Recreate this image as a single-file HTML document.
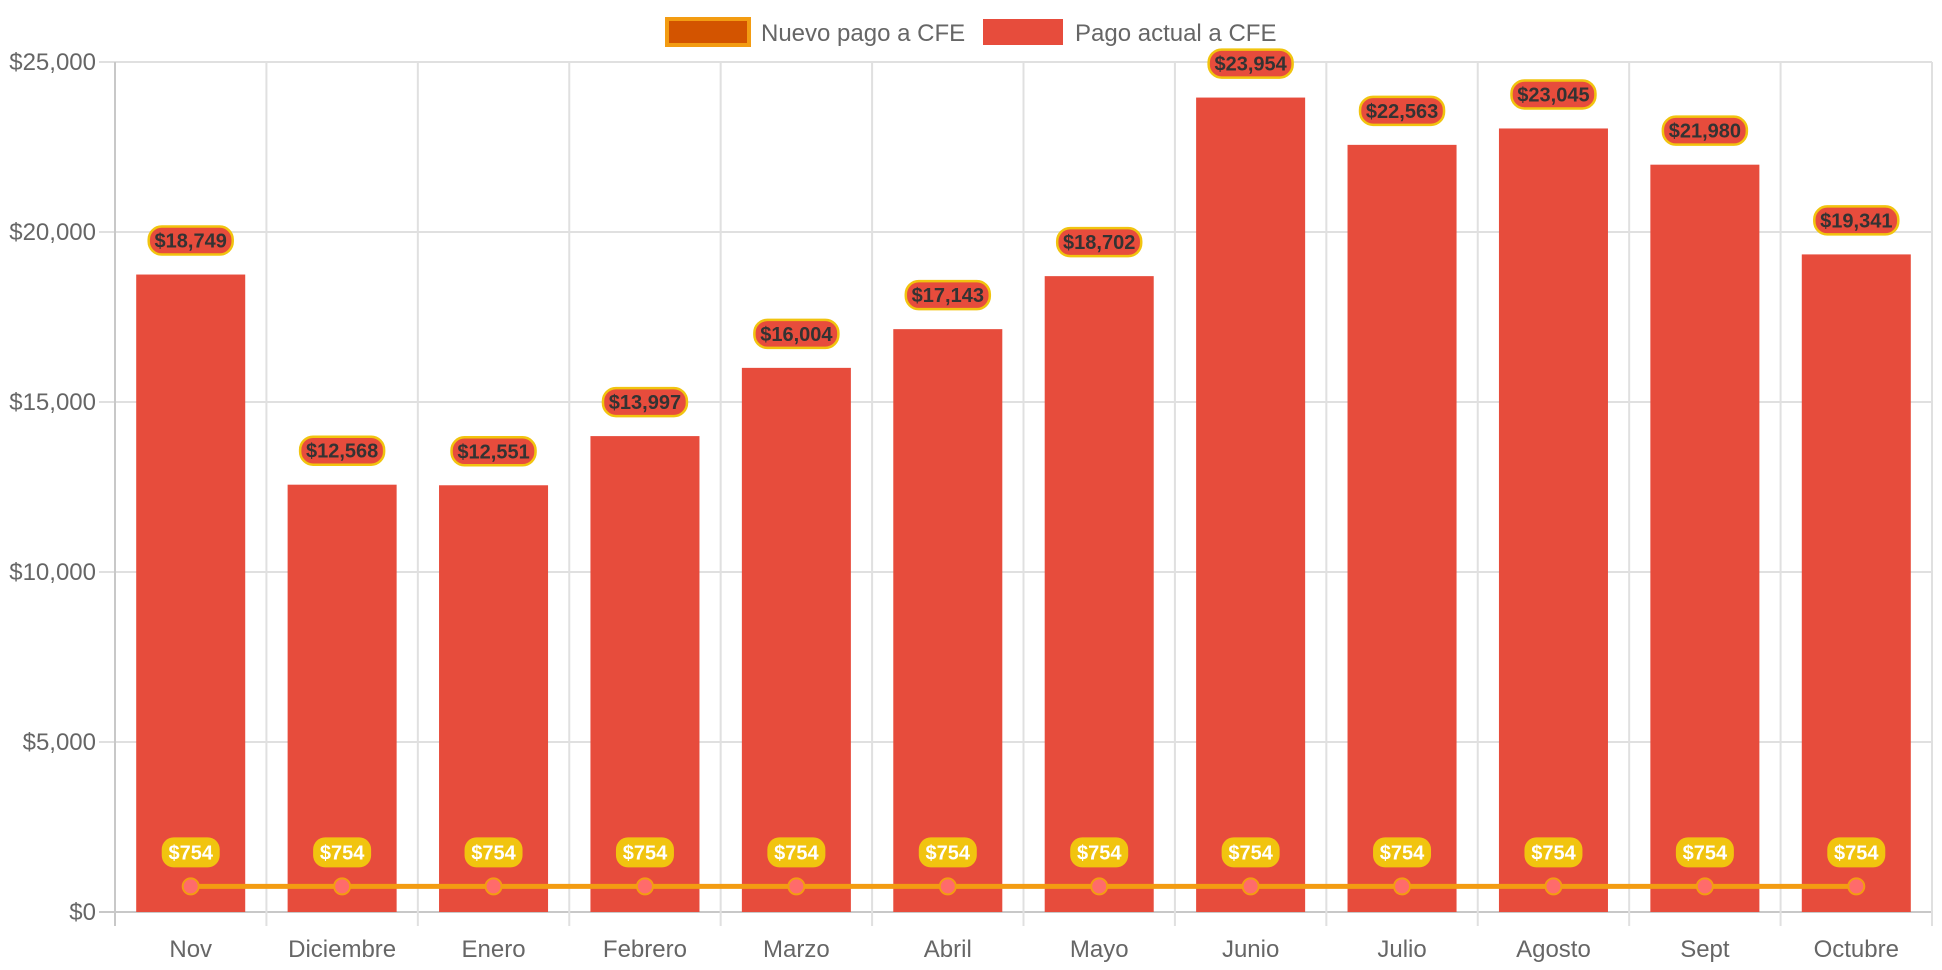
<!DOCTYPE html>
<html><head><meta charset="utf-8"><style>
html,body{margin:0;padding:0;background:#fff;}
svg{display:block;font-family:"Liberation Sans",Arial,sans-serif;}
</style></head><body>
<svg id="chart" width="1942" height="970">
<g>
  <g>
    <rect x="667" y="19" width="82" height="26" fill="#d35400" stroke="#f39c12" stroke-width="4"/>
    <text x="761" y="41" font-size="24" fill="#666">Nuevo pago a CFE</text>
  </g>
  <g>
    <rect x="983" y="19" width="80" height="26" fill="#e74c3c"/>
    <text x="1075" y="41" font-size="24" fill="#666">Pago actual a CFE</text>
  </g>
</g>
<g id="grid"></g>
<g id="bars"></g>
<g id="line"></g>
<g id="labels"></g>
</svg>
<script>
const categories = ["Nov","Diciembre","Enero","Febrero","Marzo","Abril","Mayo","Junio","Julio","Agosto","Sept","Octubre"];
const actual = [18749,12568,12551,13997,16004,17143,18702,23954,22563,23045,21980,19341];
const nuevo = [754,754,754,754,754,754,754,754,754,754,754,754];
const yTicks = [0,5000,10000,15000,20000,25000];

const NS="http://www.w3.org/2000/svg";
const L=115,R=1932,T=62,B=912,YMAX=25000;
const step=(R-L)/categories.length;
const x=i=>L+step*(i+0.5);
const y=v=>B-(v/YMAX)*(B-T);
const fmt=v=>"$"+v.toLocaleString("en-US");
function mk(tag,attrs,parent,text){const e=document.createElementNS(NS,tag);for(const k in attrs)e.setAttribute(k,attrs[k]);if(text!==undefined)e.textContent=text;parent.appendChild(e);return e;}
const grid=document.getElementById('grid'),bars=document.getElementById('bars'),line=document.getElementById('line'),labels=document.getElementById('labels');

yTicks.forEach(v=>{
  const g=mk('line',{x1:L-16,x2:R,y1:y(v),y2:y(v),stroke:v===0?'#c8c8c8':'#e0e0e0','stroke-width':2},grid);
  
  
  const t=mk('text',{x:96,y:y(v)+8,'font-size':24,fill:'#666','text-anchor':'end'},grid,fmt(v));
  
  
});
for(let i=0;i<=categories.length;i++){
  const gx=L+step*i;
  const g=mk('line',{x1:gx,x2:gx,y1:T,y2:B+14,stroke:i===0?'#c8c8c8':'#e0e0e0','stroke-width':2},grid);
  
  
}
categories.forEach((c,i)=>{
  const t=mk('text',{x:x(i),y:957,'font-size':24,fill:'#666','text-anchor':'middle'},grid,c);
  
  
});
const bw=step*0.72;
actual.forEach((v,i)=>{
  const r=mk('rect',{x:x(i)-bw/2,y:y(v),width:bw,height:B-y(v),fill:'#e74c3c'},bars);
  
  
  const cy=y(v)-34;
  const g=mk('g',{},labels);
  
  
  mk('rect',{x:x(i)-42,y:cy-14,width:84,height:28,rx:13,fill:'#e74c3c',stroke:'#f1c40f','stroke-width':2.5},g);
  mk('text',{x:x(i),y:cy+7,'font-size':20,'font-weight':'bold',fill:'#333','text-anchor':'middle'},g,fmt(v));
});
const pts=nuevo.map((v,i)=>x(i)+','+y(v)).join(' ');
const pl=mk('polyline',{points:pts,fill:'none',stroke:'#f39c12','stroke-width':5},line);


nuevo.forEach((v,i)=>{
  const c=mk('circle',{cx:x(i),cy:y(v),r:8,fill:'#ff6b6b',stroke:'#f39c12','stroke-width':2},line);
  
  
  const cy=y(v)-34;
  const g=mk('g',{},labels);
  
  
  mk('rect',{x:x(i)-29,y:cy-15,width:58,height:30,rx:12,fill:'#f1c40f'},g);
  mk('text',{x:x(i),y:cy+7,'font-size':20,'font-weight':'bold',fill:'#fff','text-anchor':'middle'},g,fmt(v));
});
</script>
</body></html>
